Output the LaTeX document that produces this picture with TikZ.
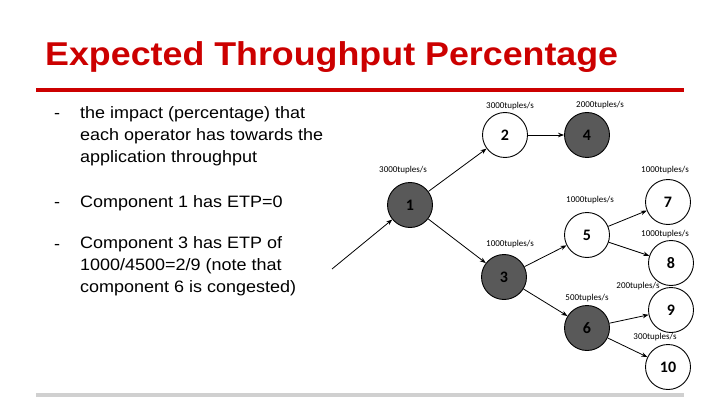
\documentclass[tikz,border=0pt]{standalone}
\usepackage{fontspec}
\setmainfont{Liberation Sans}
\newfontfamily\titlefont[FakeStretch=1.085]{Liberation Sans Bold}
\newfontfamily\bodyfont[FakeStretch=1.09]{Liberation Sans}
\newfontfamily\calfont{Carlito}
\usetikzlibrary{arrows.meta}
\usetikzlibrary{positioning}

\definecolor{titlered}{HTML}{CC0000}
\definecolor{opgrey}{HTML}{595959}
\definecolor{bargrey}{HTML}{D0D0D0}

\tikzset{
	op/.style={circle,draw,line width=0.9pt,minimum size=45pt,inner sep=0pt,font=\calfont\bfseries\fontsize{16}{16}\selectfont},
	busy/.style={op,fill=opgrey},
	rate/.style={inner sep=0pt,font=\calfont\fontsize{9}{9}\selectfont},
	flow/.style={-{Stealth[length=6pt,width=4.5pt]},line width=0.8pt},
	bullet/.style={anchor=base west,inner sep=0pt,align=left,font=\bodyfont\fontsize{16.5}{22}\selectfont}
}

\begin{document}
\begin{tikzpicture}[x=1pt,y=1pt]

						% slide frame
						\useasboundingbox (0,0) rectangle (720,405);
						\node[anchor=base west,inner sep=0pt,text=titlered,font=\titlefont\fontsize{33}{33}\selectfont] (title) at (45,339) {Expected Throughput Percentage};
						\draw[titlered,line width=4pt] (36,315) -- (684,315);
						\fill[bargrey] (36,8) rectangle (684,12);

						% bullets (anchored on the last line)
						\node[bullet] (d1) at (54,286) {-};
						\node[bullet] (b1) at (80,242) {the impact (percentage) that\\each operator has towards the\\application throughput};
						\node[bullet] (d2) at (54,198) {-};
						\node[bullet] (b2) at (80,198) {Component 1 has ETP=0};
						\node[bullet] (d3) at (54,156) {-};
						\node[bullet] (b3) at (80,113) {Component 3 has ETP of\\1000/4500=2/9 (note that\\component 6 is congested)};

						% operators
						\node[busy] (n1) at (410,200) {1};
						\node[op] (n2) at (505,270) {2};
						\node[busy] (n4) at (587,270) {4};
						\node[busy] (n3) at (504,128) {3};
						\node[op] (n5) at (587,170) {5};
						\node[busy] (n6) at (587,77) {6};
						\node[op] (n7) at (668,203) {7};
						\node[op] (n8) at (671,142) {8};
						\node[op] (n9) at (671,95) {9};
						\node[op] (n10) at (668,38) {10};
						\coordinate (src) at (332,136);

						\draw[flow] (src) -- (n1);
						\draw[flow] (n1) -- (n2);
						\draw[flow] (n2) -- (n4);
						\draw[flow] (n1) -- (n3);
						\draw[flow] (n3) -- (n5);
						\draw[flow] (n3) -- (n6);
						\draw[flow] (n5) -- (n7);
						\draw[flow] (n5) -- (n8);
						\draw[flow] (n6) -- (n9);
						\draw[flow] (n6) -- (n10);

						% rates
						\node[rate] (r1) at (403,235) {3000tuples/s};
						\node[rate] (r2) at (510,299) {3000tuples/s};
						\node[rate] (r4) at (600,300) {2000tuples/s};
						\node[rate] (r3) at (510,161) {1000tuples/s};
						\node[rate] (r5) at (590,205) {1000tuples/s};
						\node[rate] (r7) at (665,235) {1000tuples/s};
						\node[rate] (r8) at (665,171) {1000tuples/s};
						\node[rate] (r6) at (587,107) {500tuples/s};
						\node[rate] (r9) at (638,119) {200tuples/s};
						\node[rate] (r10) at (655,68) {300tuples/s};
					\end{tikzpicture}
\end{document}
